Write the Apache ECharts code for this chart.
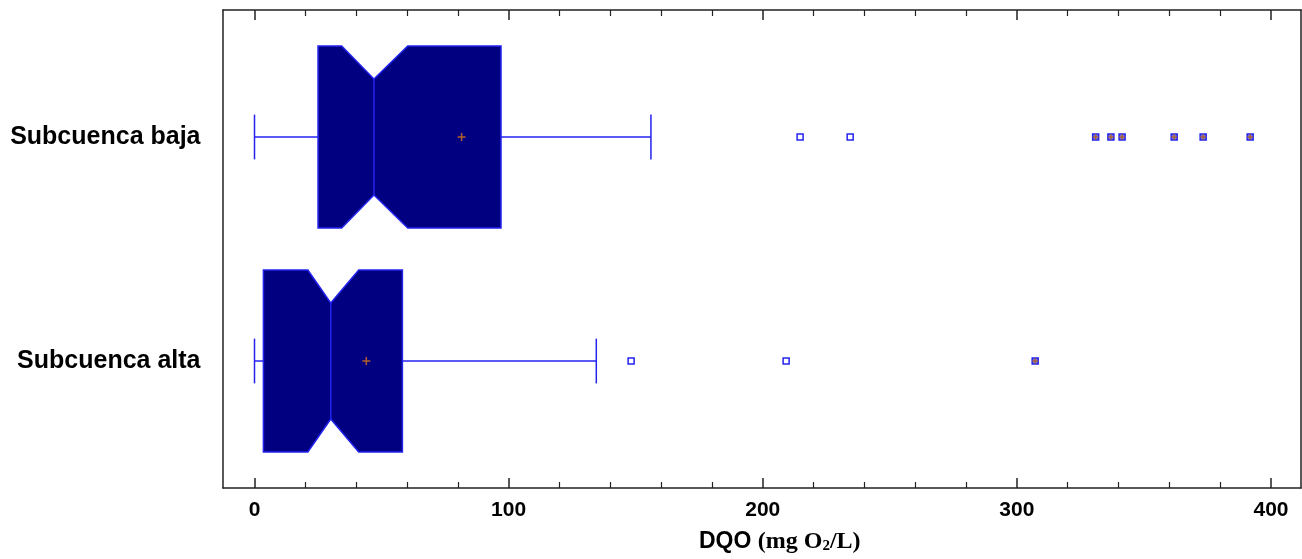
<!DOCTYPE html>
<html>
<head>
<meta charset="utf-8">
<script src="https://cdn.jsdelivr.net/npm/echarts@6/dist/echarts.min.js"></script>
<style>
  html, body { margin: 0; padding: 0; background: #fff; }
  #chart { width: 1302px; height: 559px; }
</style>
</head>
<body>
<div id="chart"></div>
<script>
// Notched box plots of DQO per sub-basin
const categories = ['Subcuenca alta', 'Subcuenca baja'];
const whiskerLow  = [0, 0];
const q1          = [3.5, 25];
const notchLow    = [21, 34.3];
const median      = [30, 47];
const notchHigh   = [41, 60.3];
const q3          = [58.2, 97];
const whiskerHigh = [134.5, 156];
const mean        = [44, 81.5];
// outside points (near) and far outside points, per category
const outliersAlta    = [148.2, 209.2];
const farOutliersAlta = [307.2];
const outliersBaja    = [214.7, 234.4];
const farOutliersBaja = [331, 337, 341.4, 361.9, 373.3, 391.8];

const xMin = 0, xMax = 400, xStep = 100;

const BOX_FILL = '#000080';
const LINE_BLUE = '#2323f0';
const MEAN_COLOR = '#b0602a';
const FRAME = '#222';

const boxRows = categories.map((c, i) => [i, whiskerLow[i], q1[i], notchLow[i], median[i],
  notchHigh[i], q3[i], whiskerHigh[i], mean[i]]);

const pointRows = [];
outliersAlta.forEach(v => pointRows.push([v, 0, 0]));
farOutliersAlta.forEach(v => pointRows.push([v, 0, 1]));
outliersBaja.forEach(v => pointRows.push([v, 1, 0]));
farOutliersBaja.forEach(v => pointRows.push([v, 1, 1]));

function renderBox(params, api) {
  const cat = api.value(0);
  const X = d => api.coord([api.value(d), cat])[0];
  const c = api.coord([0, cat])[1];
  const band = api.size([0, 1])[1];
  const h = band * 0.406, d = band * 0.147, cap = band * 0.1;
  const wl = X(1), b1 = X(2), nl = X(3), md = X(4), nh = X(5), b3 = X(6), wh = X(7), mn = X(8);
  const line = { stroke: LINE_BLUE, lineWidth: 1.5 };
  const ps = 4;
  return {
    type: 'group',
    children: [
      { type: 'line', shape: { x1: wl, y1: c, x2: b1, y2: c }, style: line },
      { type: 'line', shape: { x1: wl, y1: c - cap, x2: wl, y2: c + cap }, style: line },
      { type: 'line', shape: { x1: b3, y1: c, x2: wh, y2: c }, style: line },
      { type: 'line', shape: { x1: wh, y1: c - cap, x2: wh, y2: c + cap }, style: line },
      {
        type: 'polygon',
        shape: { points: [
          [b1, c - h], [nl, c - h], [md, c - h + d], [nh, c - h], [b3, c - h],
          [b3, c + h], [nh, c + h], [md, c + h - d], [nl, c + h], [b1, c + h]
        ] },
        style: { fill: BOX_FILL, stroke: LINE_BLUE, lineWidth: 1.5 }
      },
      { type: 'line', shape: { x1: md, y1: c - h + d, x2: md, y2: c + h - d }, style: line },
      { type: 'line', shape: { x1: mn - ps, y1: c, x2: mn + ps, y2: c }, style: { stroke: MEAN_COLOR, lineWidth: 1.5 } },
      { type: 'line', shape: { x1: mn, y1: c - ps, x2: mn, y2: c + ps }, style: { stroke: MEAN_COLOR, lineWidth: 1.5 } }
    ]
  };
}

function renderPoint(params, api) {
  const p = api.coord([api.value(0), api.value(1)]);
  const far = api.value(2) === 1;
  const s = 3;
  const children = [{
    type: 'rect',
    shape: { x: p[0] - s, y: p[1] - s, width: 2 * s, height: 2 * s },
    style: { fill: far ? '#7a7ad8' : '#fff', stroke: LINE_BLUE, lineWidth: 1.5 }
  }];
  if (far) {
    children.push(
      { type: 'line', shape: { x1: p[0] - s, y1: p[1], x2: p[0] + s, y2: p[1] }, style: { stroke: MEAN_COLOR, lineWidth: 1.2 } },
      { type: 'line', shape: { x1: p[0], y1: p[1] - s, x2: p[0], y2: p[1] + s }, style: { stroke: MEAN_COLOR, lineWidth: 1.2 } }
    );
  }
  return { type: 'group', children };
}

const plotLeft = 254.5, plotWidth = 1016.5;
const frameAxis = { show: true, onZero: false, lineStyle: { color: FRAME, width: 1.5 } };
const off = { show: false };

const option = {
  animation: false,
  backgroundColor: '#fff',
  grid: [
    { left: 223, right: 1, top: 10, bottom: 71 },              // frame
    { left: plotLeft, width: plotWidth, top: 10, bottom: 71 }, // ticks and labels
    { left: plotLeft, width: plotWidth, top: 25, height: 448 } // boxes
  ],
  xAxis: [
    { gridIndex: 0, type: 'value', min: 0, max: 1, position: 'bottom',
      axisLine: frameAxis, axisTick: off, axisLabel: off, splitLine: off },
    { gridIndex: 0, type: 'value', min: 0, max: 1, position: 'top',
      axisLine: frameAxis, axisTick: off, axisLabel: off, splitLine: off },
    { gridIndex: 1, type: 'value', min: xMin, max: xMax, interval: xStep, position: 'bottom',
      axisLine: { show: false },
      axisTick: { show: true, inside: true, length: 10, lineStyle: { color: FRAME, width: 1.5 } },
      minorTick: { show: true, splitNumber: 5, length: 6, lineStyle: { color: FRAME, width: 1.2 } },
      splitLine: off,
      axisLabel: { show: true, margin: 12, color: '#000', fontSize: 21, fontWeight: 'bold',
        fontFamily: "'Liberation Sans Narrow', 'Arial Narrow', 'Liberation Sans', sans-serif" },
      name: '{s|DQO }{t|(mg O}{sub|2}{t|/L)}',
      nameLocation: 'middle', nameGap: 42,
      nameTextStyle: {
        padding: [0, 0, 0, 34],
        rich: {
          s: { fontSize: 23, fontWeight: 'bold', color: '#000',
            fontFamily: "'Liberation Sans Narrow', 'Arial Narrow', 'Liberation Sans', sans-serif" },
          t: { fontSize: 24, fontWeight: 'bold', color: '#000', fontFamily: "'Liberation Serif', serif" },
          sub: { fontSize: 15, fontWeight: 'bold', color: '#000', fontFamily: "'Liberation Serif', serif",
            padding: [8, 0, 0, 0] }
        }
      } },
    { gridIndex: 1, type: 'value', min: xMin, max: xMax, interval: xStep, position: 'top',
      axisLine: { show: false },
      axisTick: { show: true, inside: true, length: 10, lineStyle: { color: FRAME, width: 1.5 } },
      minorTick: { show: true, splitNumber: 5, length: 6, lineStyle: { color: FRAME, width: 1.2 } },
      splitLine: off, axisLabel: off },
    { gridIndex: 2, type: 'value', min: xMin, max: xMax, show: false }
  ],
  yAxis: [
    { gridIndex: 0, type: 'value', min: 0, max: 1, position: 'left',
      axisLine: frameAxis, axisTick: off, axisLabel: off, splitLine: off },
    { gridIndex: 0, type: 'value', min: 0, max: 1, position: 'right',
      axisLine: frameAxis, axisTick: off, axisLabel: off, splitLine: off },
    { gridIndex: 1, type: 'value', min: 0, max: 1, show: false },
    { gridIndex: 2, type: 'category', data: categories,
      axisLine: off, axisTick: off, splitLine: off,
      axisLabel: { margin: 54, color: '#000', fontSize: 25, fontWeight: 'bold',
        fontFamily: "'Liberation Sans', Arial, sans-serif" } }
  ],
  series: [
    { type: 'custom', xAxisIndex: 4, yAxisIndex: 3, renderItem: renderBox,
      encode: { x: [1, 2, 3, 4, 5, 6, 7, 8], y: 0 }, data: boxRows, z: 2 },
    { type: 'custom', xAxisIndex: 4, yAxisIndex: 3, renderItem: renderPoint,
      encode: { x: 0, y: 1 }, data: pointRows, z: 3 }
  ]
};

echarts.init(document.getElementById('chart'), null, { renderer: 'canvas' }).setOption(option);
</script>
</body>
</html>
